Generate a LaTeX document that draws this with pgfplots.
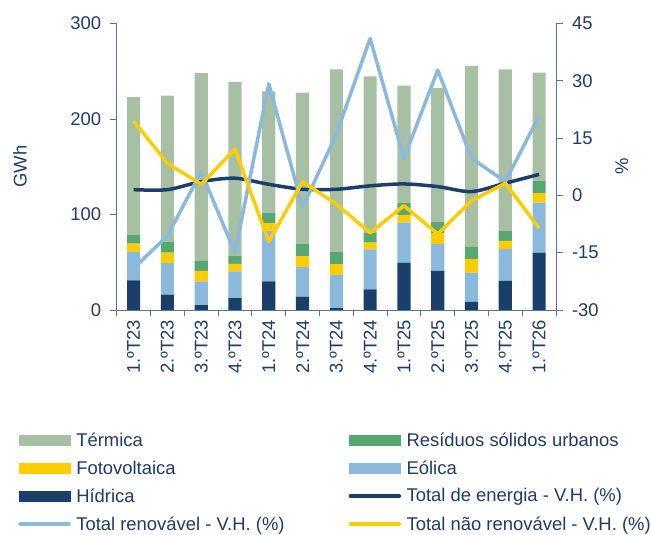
\documentclass[border=0pt]{standalone}
\usepackage{fontspec}
\setmainfont{Liberation Sans}
\usepackage{pgfplots}
\pgfplotsset{compat=1.18}
\definecolor{termica}{HTML}{A7C0A4}
\definecolor{residuos}{HTML}{57A773}
\definecolor{foto}{HTML}{FFCC00}
\definecolor{eolica}{HTML}{8BB9DC}
\definecolor{hidrica}{HTML}{1A3F6B}
\definecolor{txtcol}{HTML}{1F3B66}
\definecolor{axcol}{HTML}{5B7396}
\pgfplotsset{
  common/.style={
    scale only axis, width=439.3bp, height=286.5bp,
    at={(116.7bp,225bp)}, anchor=south west,
    xmin=-0.5, xmax=12.5,
    /pgf/number format/assume math mode=true,
    tick align=outside,
    major tick length=6.5bp, minor tick length=6.5bp,
    every tick/.style={draw=axcol, line width=0.8bp},
    axis line style={draw=axcol, line width=0.8bp},
    ticklabel style={font=\fontsize{18.5}{21}\selectfont, text=txtcol},
    label style={font=\fontsize{18.5}{21}\selectfont, text=txtcol},
  },
  barleg/.style={legend image code/.code={\fill[##1,draw=none] (0bp,-5.5bp) rectangle (52bp,5.5bp);}},
  lineleg/.style={legend image code/.code={\draw[##1,line width=3.5bp,line cap=round] (1.5bp,0bp) -- (50.5bp,0bp);}},
}
\begin{document}
\begin{tikzpicture}[x=1bp,y=1bp]
\useasboundingbox (0,0) rectangle (651,535);
\begin{axis}[common,
  ymin=0, ymax=300, ytick={0,100,200,300},
  axis x line*=bottom, axis y line*=left,
  ybar stacked, bar width=0.39,
  xtick={0,...,12},
  xticklabels={1.ºT23,2.ºT23,3.ºT23,4.ºT23,1.ºT24,2.ºT24,3.ºT24,4.ºT24,1.ºT25,2.ºT25,3.ºT25,4.ºT25,1.ºT26},
  x tick label style={rotate=90, anchor=east},
  yticklabel style={xshift=-5.5bp},
  major x tick style={draw=none},
  minor xtick={-0.5,0.5,...,12.5},
  ylabel={GWh},
  every axis y label/.append style={at={(axis description cs:-0.22,0.5)}, anchor=center, rotate=0},
]
\addplot[fill=hidrica, draw=none] coordinates {(0,31) (1,16) (2,5) (3,12.5) (4,30) (5,14) (6,2) (7,21.5) (8,49.5) (9,41) (10,8.5) (11,30.5) (12,60)};
\addplot[fill=eolica, draw=none] coordinates {(0,30) (1,33) (2,25) (3,28) (4,53) (5,31) (6,34.5) (7,42) (8,42) (9,28) (10,30.5) (11,33.5) (12,52.5)};
\addplot[fill=foto, draw=none] coordinates {(0,8.5) (1,11) (2,11) (3,7.7) (4,8) (5,11.5) (6,11.5) (7,7) (8,8) (9,11.5) (10,14.5) (11,8.5) (12,10)};
\addplot[fill=residuos, draw=none] coordinates {(0,9.5) (1,11.5) (2,10.5) (3,8.7) (4,11) (5,13) (6,12.5) (7,10) (8,13) (9,12) (10,12.5) (11,10) (12,13)};
\addplot[fill=termica, draw=none] coordinates {(0,144) (1,153) (2,196.5) (3,182) (4,127) (5,158) (6,191.5) (7,164) (8,122.5) (9,140) (10,189.5) (11,169.5) (12,113)};
\end{axis}
\begin{axis}[common,
  ymin=-30, ymax=45, ytick={-30,-15,...,45},
  axis y line*=right, axis x line=none,
  yticklabel style={xshift=6bp},
  ylabel={\%},
  every axis y label/.append style={at={(axis description cs:1.15,0.5)}, anchor=center},
  legend columns=2,
  legend style={at={(axis description cs:-0.224,-0.421)}, anchor=north west,
    draw=none, fill=none, inner sep=0pt, outer sep=0pt,
    font=\fontsize{18.5}{21}\selectfont, text=txtcol,
    row sep=8.9bp, column sep=0pt,
    /tikz/column 1/.style={column sep=3.5bp},
    /tikz/column 2/.style={column sep=62bp},
    /tikz/column 3/.style={column sep=3.5bp}},
  legend cell align=left,
]
\addlegendimage{barleg, fill=termica}
\addlegendentry{Térmica}
\addlegendimage{barleg, fill=residuos}
\addlegendentry{Resíduos sólidos urbanos}
\addlegendimage{barleg, fill=foto}
\addlegendentry{Fotovoltaica}
\addlegendimage{barleg, fill=eolica}
\addlegendentry{Eólica}
\addlegendimage{barleg, fill=hidrica}
\addlegendentry{Hídrica}
\addplot[lineleg, hidrica, line width=3.5bp, smooth, line join=round] coordinates {(0,1.5) (1,1.5) (2,3.6) (3,4.5) (4,2.9) (5,1.6) (6,1.6) (7,2.5) (8,3.0) (9,2.3) (10,1.0) (11,3.2) (12,5.5)};
\addlegendentry{Total de energia - V.H. (\%)}
\addplot[lineleg, eolica, line width=3.5bp, line join=round] coordinates {(0,-19.1) (1,-10.6) (2,6.2) (3,-15) (4,29.2) (5,-3.1) (6,16) (7,41.1) (8,9.7) (9,32.8) (10,9.7) (11,3.6) (12,20.8)};
\addlegendentry{Total renovável - V.H. (\%)}
\addplot[lineleg, foto, line width=3.5bp, line join=round] coordinates {(0,19.5) (1,8.4) (2,2.9) (3,12.1) (4,-12.1) (5,3.6) (6,-2.3) (7,-9.8) (8,-2.7) (9,-10.1) (10,-1.4) (11,3.2) (12,-8.6)};
\addlegendentry{Total não renovável - V.H. (\%)}
\end{axis}
\end{tikzpicture}
\end{document}
